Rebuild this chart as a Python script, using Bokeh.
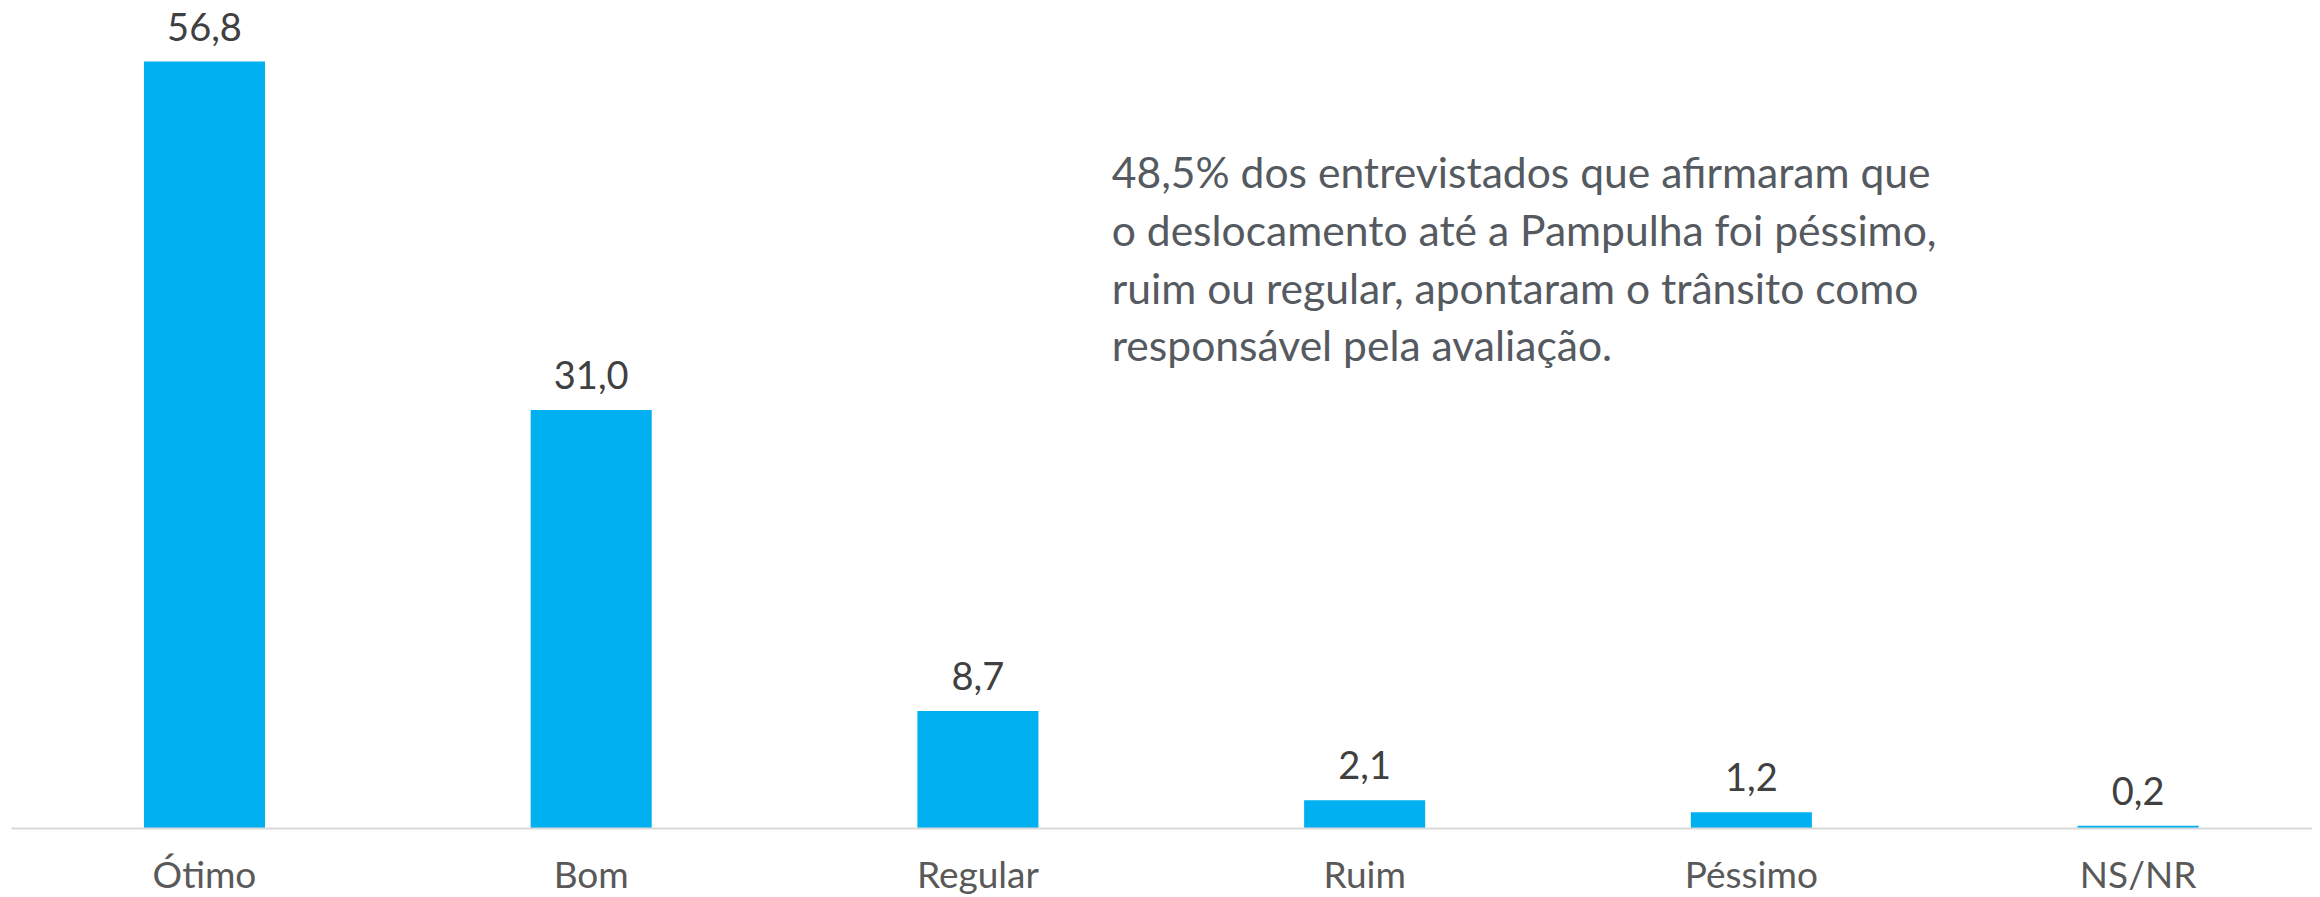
from bokeh.plotting import figure
from bokeh.models import Range1d, FixedTicker, ColumnDataSource, LabelSet, Label
from bokeh.core.properties import value
from bokeh.embed import file_html
from bokeh.resources import INLINE

categories = ["Ótimo", "Bom", "Regular", "Ruim", "Péssimo", "NS/NR"]
values = [56.8, 31.0, 8.7, 2.1, 1.2, 0.2]
note_lines = [
    "48,5% dos entrevistados que afirmaram que",
    "o deslocamento até a Pampulha foi péssimo,",
    "ruim ou regular, apontaram o trânsito como",
    "responsável pela avaliação.",
]

FONT = "Lato"
xs = list(range(len(categories)))
src = ColumnDataSource(dict(
    x=xs,
    top=values,
    label=[f"{v:.1f}".replace(".", ",") for v in values],
))

p = figure(
    frame_width=2301, frame_height=821,
    x_range=Range1d(-0.499, 5.451), y_range=Range1d(0, 60.8),
    output_backend="svg", toolbar_location=None,
    min_border_left=11, min_border_right=0, min_border_top=7, min_border_bottom=0,
)
p.outline_line_color = None
p.xgrid.visible = False
p.ygrid.visible = False
p.yaxis.visible = False
p.background_fill_color = "white"
p.border_fill_color = "white"

p.vbar(x="x", top="top", bottom=0, width=0.313, source=src,
       fill_color="#00B0F0", line_color=None)

ax = p.xaxis[0]
ax.ticker = FixedTicker(ticks=xs)
ax.major_label_overrides = {i: c for i, c in zip(xs, categories)}
ax.axis_line_color = "#D9D9D9"
ax.axis_line_width = 2
ax.major_tick_line_color = None
ax.minor_tick_line_color = None
ax.major_tick_in = 0
ax.major_tick_out = 0
ax.major_label_standoff = 22
ax.major_label_text_font = FONT
ax.major_label_text_font_size = "37px"
ax.major_label_text_color = "#595959"

labels = LabelSet(x="x", y="top", text="label", source=src,
                  text_align="center", text_baseline="alphabetic",
                  y_offset=21, text_font=value(FONT), text_font_size=value("38px"),
                  text_color=value("#404040"))
p.add_layout(labels)

line_step = 57.7
for i, line in enumerate(note_lines):
    p.add_layout(Label(x=2.346, y=48.64, y_offset=-line_step * i, text=line,
                       text_align="left", text_baseline="alphabetic",
                       text_font=FONT, text_font_size="42.6px",
                       text_color="#555A60"))

open("out.html", "w").write(file_html(p, INLINE))
